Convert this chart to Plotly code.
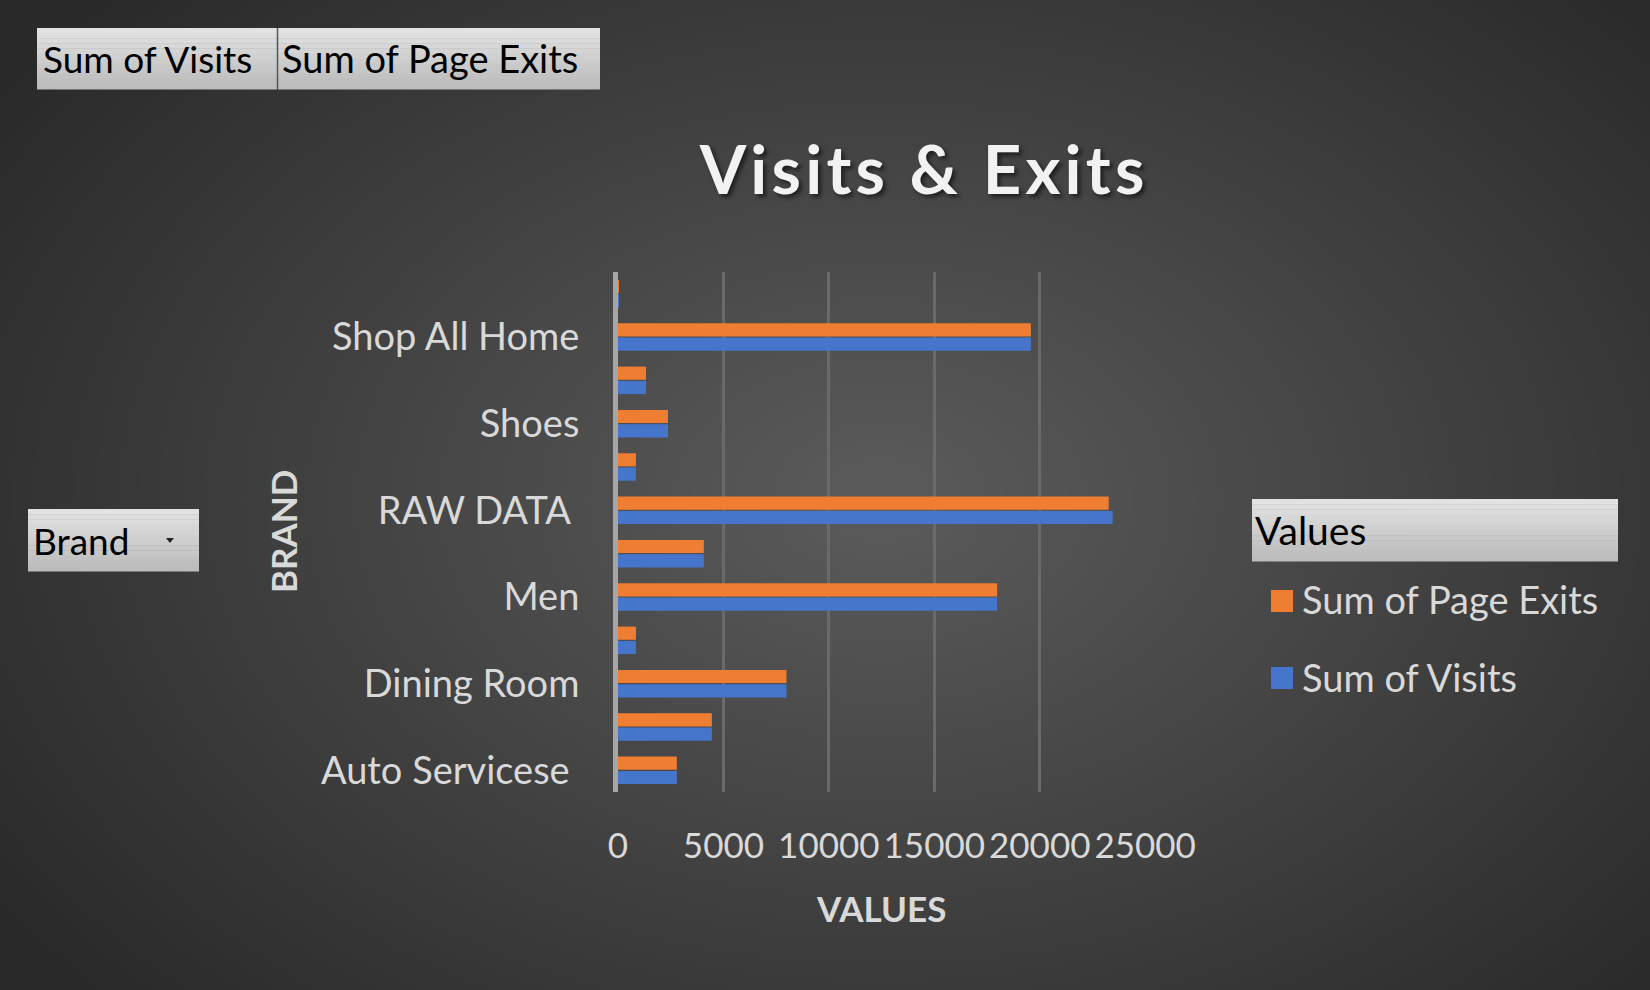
import plotly.graph_objects as go

# ---------------- data ----------------
categories = ["Auto Servicese", "Bedding", "Dining Room", "Kitchen", "Men", "Outdoor",
              "RAW DATA", "Sale", "Shoes", "Shoes Sale", "Shop All Home", "Toys"]
visits = [2790, 4450, 7990, 850, 17980, 4070, 23460, 850, 2370, 1330, 19580, 45]
page_exits = [2790, 4450, 7990, 850, 17980, 4070, 23270, 850, 2370, 1330, 19580, 40]
labeled_categories = ["Auto Servicese", "Dining Room", "Men", "RAW DATA", "Shoes", "Shop All Home"]
labeled_text = ["Auto Servicese\u00a0", "Dining Room", "Men", "RAW DATA\u00a0", "Shoes", "Shop All Home"]
x_ticks = [0, 5000, 10000, 15000, 20000, 25000]

W, H = 1650, 990
L, R, T, B = 618, 1146, 272, 792   # plot area in pixels
FONT = "Lato"
LABEL = "#d9d9d9"
BLUE = "#4675CC"
ORANGE = "#EF7D32"


def px(x):
    return (x - L) / (R - L)


def py(y):
    return (B - y) / (B - T)


shapes = []

# radial background glow
n = 48
cx, cy = 880, 500
for i in range(n):
    f = 1 - i / n
    rx, ry = 1020 * f + 40, 700 * f + 30
    shapes.append(dict(type="circle", xref="paper", yref="paper", layer="below",
                       x0=px(cx - rx), x1=px(cx + rx), y0=py(cy + ry), y1=py(cy - ry),
                       fillcolor="rgba(255,255,255,0.0078)", line=dict(width=0)))


def grad_box(x0, y0, x1, y1, top=(226, 226, 226), bot=(188, 188, 188), steps=12):
    h = (y1 - y0) / steps
    for k in range(steps):
        t = k / (steps - 1)
        c = tuple(int(top[j] + (bot[j] - top[j]) * t) for j in range(3))
        shapes.append(dict(type="rect", xref="paper", yref="paper", layer="above",
                           x0=px(x0), x1=px(x1), y0=py(y0 + (k + 1) * h + 0.5), y1=py(y0 + k * h),
                           fillcolor="rgb(%d,%d,%d)" % c, line=dict(width=0)))


grad_box(37, 28, 277, 89)
grad_box(278, 28, 600, 89)
shapes.append(dict(type="line", xref="paper", yref="paper", layer="above",
                   x0=px(277.5), x1=px(277.5), y0=py(28), y1=py(89),
                   line=dict(color="#555555", width=1.5)))
grad_box(28, 509, 199, 571)
grad_box(1252, 499, 1618, 561)
# dropdown arrow
shapes.append(dict(type="path", xref="paper", yref="paper", layer="above",
                   path="M %f %f L %f %f L %f %f Z" % (px(166), py(538), px(174), py(538), px(170), py(543)),
                   fillcolor="#222222", line=dict(width=0)))
# larger legend swatches (behind the legend's own symbols)
for (y0, y1, col) in [(590, 612, ORANGE), (667, 689, BLUE)]:
    shapes.append(dict(type="rect", xref="paper", yref="paper", layer="above",
                       x0=px(1271), x1=px(1293), y0=py(y1), y1=py(y0),
                       fillcolor=col, line=dict(width=0)))

annotations = [
    dict(text="Sum of Visits", x=px(41), y=py(58.5), xanchor="left", yanchor="middle",
         font=dict(family=FONT, size=37, color="#000000")),
    dict(text="Sum of Page Exits", x=px(280), y=py(58.5), xanchor="left", yanchor="middle",
         font=dict(family=FONT, size=38, color="#000000")),
    dict(text="Brand", x=px(31), y=py(540), xanchor="left", yanchor="middle",
         font=dict(family=FONT, size=37, color="#000000")),
    dict(text="Values", x=px(1253), y=py(530), xanchor="left", yanchor="middle",
         font=dict(family=FONT, size=39, color="#000000")),
    dict(text="<b>BRAND</b>", x=px(283), y=py(532), textangle=-90, xanchor="center", yanchor="middle",
         font=dict(family=FONT, size=35, color=LABEL)),
    dict(text="<b>VALUES</b>", x=px(881), y=py(908), xanchor="center", yanchor="middle",
         font=dict(family=FONT, size=35, color=LABEL)),
]
for a in annotations:
    a.update(xref="paper", yref="paper", showarrow=False)

fig = go.Figure()
fig.add_trace(go.Bar(y=categories, x=visits, orientation="h", name="Sum of Visits",
                     legendgroup="v", legendrank=2,
                     marker=dict(color=BLUE, line=dict(width=0))))
fig.add_trace(go.Bar(y=categories, x=page_exits, orientation="h", name="Sum of Page Exits",
                     legendgroup="e", legendrank=1,
                     marker=dict(color=ORANGE, line=dict(width=0))))

title_text = "\u200a".join(list("Visits & Exits"))

fig.update_layout(
    width=W, height=H,
    margin=dict(l=L, r=W - R, t=T, b=H - B, autoexpand=False),
    paper_bgcolor="#292929",
    plot_bgcolor="rgba(0,0,0,0)",
    barmode="group", bargap=0.34, bargroupgap=0.08,
    title=dict(text="<b>" + title_text + "</b>", xref="container", yref="container",
               x=922 / W, y=1 - 171 / H, xanchor="center", yanchor="middle",
               font=dict(family=FONT, size=67, color="#f2f2f2",
                         shadow="3px 3px 4px rgba(0,0,0,0.55)")),
    xaxis=dict(range=[0, 25040], tickvals=x_ticks, ticktext=[str(v) for v in x_ticks],
               showgrid=True, gridcolor="#6a6a6a", gridwidth=3,
               zeroline=False, showline=False, ticks="", ticklabelstandoff=30, automargin=False,
               tickfont=dict(family=FONT, size=35, color=LABEL)),
    yaxis=dict(categoryorder="array", categoryarray=categories, range=[-0.5, len(categories) - 0.5],
               tickvals=labeled_categories, ticktext=labeled_text,
               showgrid=False, zeroline=False, showline=True, linecolor="#a6a6a6", linewidth=5,
               ticks="", ticklabelstandoff=26, automargin=False,
               tickfont=dict(family=FONT, size=38, color=LABEL)),
    legend=dict(xref="container", yref="container", x=1262 / W, y=1 - 568 / H,
                xanchor="left", yanchor="top", bgcolor="rgba(0,0,0,0)",
                traceorder="grouped", tracegroupgap=26,
                font=dict(family=FONT, size=38, color=LABEL)),
    shapes=shapes,
    annotations=annotations,
    showlegend=True,
)

fig.write_html("out.html")
